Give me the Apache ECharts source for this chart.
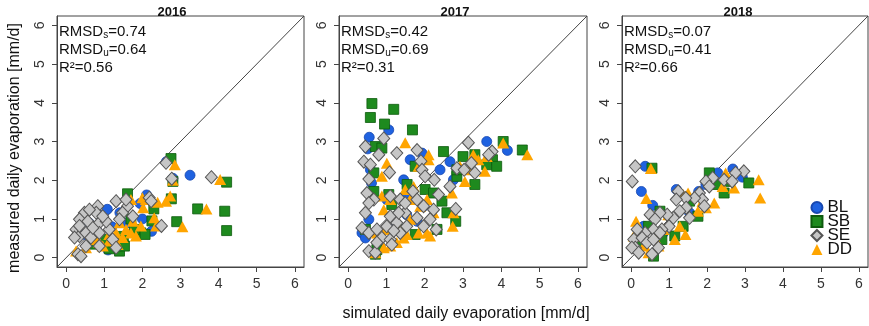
<!DOCTYPE html>
<html><head><meta charset="utf-8">
<script src="https://cdn.jsdelivr.net/npm/echarts@6/dist/echarts.min.js"></script>
<style>html,body{margin:0;padding:0;background:#fff}#c{width:869px;height:326px}</style>
</head><body><div id="c"></div>
<script>
const years = ['2016', '2017', '2018'];
const seriesNames = ['BL', 'SB', 'SE', 'DD'];
const tickValues = [0, 1, 2, 3, 4, 5, 6];
const rmsdS = ['0.74', '0.42', '0.07'];
const rmsdU = ['0.64', '0.69', '0.41'];
const r2 = ['0.56', '0.31', '0.66'];

// 2016
const bl2016 = [[3.25,2.13],[1.08,1.25],[1.94,1.40],[2.11,1.62],[2.24,0.68],[2.63,2.48],[1.1,0.2],[1.41,1.16],[2.8,2.05],[0.6,0.9],[0.8,0.7],[1.3,0.5],[0.5,0.6],[1.6,0.9],[2.0,1.0],[0.9,1.1],[1.2,0.8]];
const sb2016 = [[2.75,2.56],[2.8,1.97],[4.21,1.95],[3.45,1.26],[4.16,1.2],[4.21,0.7],[2.9,0.93],[2.76,1.52],[1.61,1.65],[1.4,0.17],[1.13,0.23],[1.53,0.3],[1.96,0.64],[2.07,0.6],[2.3,1.26],[0.96,0.47],[1.79,0.73],[1.5,0.55],[1.25,0.4],[2.25,0.95],[0.7,0.35],[1.7,1.0]];
const se2016 = [[2.62,2.45],[2.77,2.04],[3.81,2.08],[2.5,0.82],[2.18,1.55],[2.23,1.46],[1.31,1.46],[1.61,1.33],[1.48,1.16],[1.75,1.07],[1.4,0.99],[0.83,1.33],[0.79,1.16],[0.48,1.16],[0.35,0.99],[0.57,0.94],[0.87,0.9],[0.26,0.73],[0.35,0.56],[0.22,0.52],[0.52,0.64],[0.65,0.52],[0.87,0.64],[1.13,0.73],[1.05,0.94],[1.22,0.47],[1.31,0.26],[0.52,0.3],[0.31,0.09],[0.39,0.04],[0.7,0.77],[0.96,1.07],[0.61,1.24],[1.57,1.5],[0.87,0.3],[0.35,0.82]];
const dd2016 = [[2.85,2.4],[4.04,2.02],[3.68,1.26],[3.05,0.8],[2.73,1.59],[2.8,2.0],[2.4,1.43],[2.62,1.46],[2.0,1.55],[2.02,1.29],[2.31,1.03],[2.36,0.82],[1.96,0.82],[1.75,0.94],[1.57,0.73],[1.31,0.64],[1.13,0.6],[0.87,0.39],[0.96,0.3],[0.52,0.26],[0.26,0.17],[1.4,0.9],[1.7,1.5],[2.09,1.5],[1.13,0.43],[1.48,0.52],[1.7,0.64],[1.83,0.56],[0.79,0.47],[1.35,0.34]];

// 2017
const bl2017 = [[0.55,3.11],[1.06,3.3],[3.62,3.0],[4.16,2.77],[0.51,2.81],[1.62,2.53],[1.45,2.01],[1.93,2.7],[2.4,2.27],[2.66,2.48],[0.61,1.93],[0.58,2.27],[2.75,2.01],[1.53,1.67],[0.36,0.64],[0.45,0.51],[0.54,0.99],[1.01,1.5],[1.14,0.73],[1.8,0.94],[1.97,1.33],[1.53,1.11],[0.84,0.3]];
const sb2017 = [[0.62,3.98],[0.58,3.62],[1.19,3.83],[0.95,3.45],[1.68,3.3],[0.71,2.87],[0.88,2.83],[1.75,2.36],[2.49,2.74],[4.05,3.0],[4.55,2.78],[3.77,2.53],[3.62,2.4],[3.88,2.36],[3.31,1.89],[2.84,2.1],[3.0,2.61],[3.31,2.66],[2.01,1.76],[2.23,1.67],[1.54,1.89],[0.67,2.19],[0.67,1.71],[1.14,1.37],[2.81,0.94],[1.75,0.6],[2.32,0.73],[0.45,0.73],[0.71,0.09],[0.75,0.21],[1.4,0.73],[2.58,1.16],[2.45,1.46],[2.84,2.27],[1.06,1.63]];
const se2017 = [[3.14,2.97],[0.93,3.08],[0.45,2.87],[0.41,2.48],[0.8,2.66],[0.58,2.4],[1.08,2.2],[1.27,2.7],[1.8,2.78],[1.9,2.49],[3.76,2.74],[3.67,2.66],[3.22,2.44],[2.84,2.31],[3.03,2.27],[3.31,2.19],[1.93,2.27],[2.01,2.1],[2.25,2.01],[0.54,2.03],[0.49,1.67],[0.67,1.5],[1.1,1.59],[1.36,1.5],[1.49,1.16],[1.69,1.71],[1.8,1.5],[1.97,1.33],[2.23,1.24],[2.36,1.63],[2.66,1.84],[2.81,1.26],[2.3,0.73],[0.45,1.16],[0.36,0.77],[0.54,0.64],[0.75,0.73],[1.01,0.81],[1.1,1.07],[1.27,0.9],[0.88,0.51],[1.1,0.47],[1.36,0.64],[1.53,0.81],[1.8,1.03],[1.97,0.81],[0.54,0.17],[0.71,0.13],[0.75,0.39],[1.19,0.69],[1.32,1.16],[1.49,1.41],[2.14,0.99],[0.54,1.41],[1.14,0.34]];
const dd2017 = [[1.49,2.97],[4.05,2.96],[4.68,2.66],[3.27,2.66],[3.4,2.53],[3.62,2.61],[2.1,2.66],[2.1,2.53],[1.01,2.44],[0.88,2.1],[1.84,2.36],[2.92,2.36],[3.18,2.27],[3.57,2.23],[3.05,1.97],[0.88,1.59],[1.49,1.76],[1.1,1.5],[2.06,1.5],[0.93,1.24],[1.88,1.33],[2.71,1.67],[2.73,0.81],[2.75,1.16],[2.06,0.64],[2.14,0.56],[2.23,1.16],[1.62,0.99],[1.1,0.3],[1.27,0.39],[1.45,0.51],[1.84,0.64],[0.71,0.13],[0.93,0.26],[1.71,1.84],[1.36,0.73],[1.53,0.6],[0.97,0.73],[0.75,0.64],[1.62,1.5]];

// 2018
const bl2018 = [[0.27,1.71],[0.57,1.35],[1.19,1.76],[1.78,1.71],[2.28,2.19],[2.68,2.29],[2.93,2.08],[1.97,1.89],[0.33,0.81],[0.16,0.26],[0.85,0.64],[1.54,1.16],[0.37,2.36],[2.15,2.01]];
const sb2018 = [[0.55,2.31],[3.1,1.93],[2.45,1.67],[1.76,1.07],[0.76,1.2],[0.59,0.04],[0.81,0.47],[1.37,0.81],[0.46,0.81],[2.06,2.19],[2.58,1.97],[1.15,0.56],[1.54,1.46],[0.24,0.39],[2.28,1.89]];
const se2018 = [[0.11,2.36],[0.03,1.97],[2.15,2.06],[2.97,2.23],[2.75,2.19],[2.45,2.01],[2.66,1.97],[1.97,1.97],[2.06,1.84],[1.8,1.67],[1.88,1.5],[1.93,1.33],[1.67,1.54],[1.44,1.54],[1.24,1.71],[1.19,1.5],[1.45,1.29],[1.28,1.2],[1.54,1.03],[1.11,1.03],[0.95,1.11],[1.0,0.81],[0.76,1.16],[0.5,1.11],[0.63,0.99],[0.81,0.73],[0.59,0.73],[0.37,0.64],[0.16,0.73],[0.07,0.47],[0.29,0.51],[0.42,0.39],[0.59,0.47],[0.72,0.26],[0.55,0.09],[0.11,0.26],[0.02,0.26],[0.2,0.13],[0.76,0.64]];
const dd2018 = [[3.36,2.01],[3.4,1.54],[0.52,2.3],[0.4,1.53],[0.13,0.94],[2.49,2.19],[2.71,1.8],[2.41,1.84],[2.19,1.41],[1.97,1.29],[1.76,1.2],[1.43,0.6],[1.15,0.47],[1.28,0.81],[0.85,0.73],[0.72,0.3],[0.07,0.56],[1.5,1.67],[1.37,1.63],[0.98,1.11],[0.63,0.51],[0.33,0.3],[0.46,0.13],[1.88,1.46]];

const panelData = [
  {BL: bl2016, SB: sb2016, SE: se2016, DD: dd2016},
  {BL: bl2017, SB: sb2017, SE: se2017, DD: dd2017},
  {BL: bl2018, SB: sb2018, SE: se2018, DD: dd2018}
];

const AX_MIN = -0.24, AX_MAX = 6.24;
const FONT = '"Liberation Sans", Arial, sans-serif';
const gridLefts = [57, 339, 622];
const gridWidths = [247, 248, 246];
const GRID_TOP = 16, GRID_H = 251;

const styles = {
  BL: {symbol: 'circle', size: 10, color: '#1f62e0', border: '#1848b0', bw: 0.8},
  SB: {symbol: 'rect', size: 10, color: '#1e8a1e', border: '#0d5a0d', bw: 0.8},
  SE: {symbol: 'diamond', size: [12, 13], color: '#c6c6c6', border: '#555555', bw: 1},
  DD: {symbol: 'triangle', size: [12, 11], color: '#ffa500', border: '#ffa500', bw: 0}
};
const drawOrder = ['BL', 'SB', 'DD', 'SE'];

const grid = [], xAxis = [], yAxis = [], series = [], graphic = [];
years.forEach((yr, i) => {
  grid.push({left: gridLefts[i], top: GRID_TOP, width: gridWidths[i], height: GRID_H,
    show: true, borderColor: '#444', borderWidth: 1, backgroundColor: '#fff'});
  const common = {
    gridIndex: i, type: 'value', min: AX_MIN, max: AX_MAX,
    axisLine: {show: true, onZero: false, lineStyle: {color: '#444', width: 1}}, splitLine: {show: false},
    axisTick: {show: true, inside: false, customValues: tickValues, length: 5, lineStyle: {color: '#444', width: 1}},
  };
  xAxis.push(Object.assign({}, common, {
    position: 'bottom',
    axisLabel: {customValues: tickValues, fontSize: 14, color: '#333', margin: 10, fontFamily: FONT}
  }));
  yAxis.push(Object.assign({}, common, {
    position: 'left',
    axisLabel: {customValues: tickValues, fontSize: 14, color: '#333', margin: 10, rotate: 90, fontFamily: FONT}
  }));
  series.push({
    type: 'line', xAxisIndex: i, yAxisIndex: i, silent: true, symbol: 'none',
    data: [[AX_MIN, AX_MIN], [AX_MAX, AX_MAX]],
    lineStyle: {color: '#444', width: 1}, z: 1, clip: true
  });
  drawOrder.forEach(name => {
    const s = styles[name];
    series.push({
      type: 'scatter', name: name, xAxisIndex: i, yAxisIndex: i,
      data: panelData[i][name], symbol: s.symbol, symbolSize: s.size,
      itemStyle: {color: s.color, borderColor: s.border, borderWidth: s.bw, opacity: 1},
      emphasis: {disabled: true}, z: 2
    });
  });
  const left = gridLefts[i] + 2;
  const lines = [
    '{m|RMSD}{s|s}{m|=' + rmsdS[i] + '}',
    '{m|RMSD}{s|u}{m|=' + rmsdU[i] + '}',
    '{m|R²=' + r2[i] + '}'
  ];
  lines.forEach((t, k) => {
    graphic.push({type: 'text', left: left, top: 24 + k * 18, z: 10, style: {
      text: t, fill: '#111',
      rich: {m: {fontSize: 15, fontFamily: FONT, fill: '#111', lineHeight: 17},
             s: {fontSize: 10, fontFamily: FONT, fill: '#111', verticalAlign: 'bottom', lineHeight: 17}}
    }});
  });
});
const titleCenters = [172, 455, 738];
years.forEach((yr, i) => {
  graphic.push({type: 'text', x: titleCenters[i], y: 12, z: 10, style: {
    text: yr, fontSize: 13, fontWeight: 'bold', fontFamily: FONT, fill: '#111', align: 'center', verticalAlign: 'middle'}});
});
graphic.push({type: 'text', x: 15, y: 148, rotation: Math.PI / 2, z: 10, style: {
  text: 'measured daily evaporation [mm/d]', fontSize: 16, fontFamily: FONT, fill: '#111', align: 'center', verticalAlign: 'middle'}});
graphic.push({type: 'text', x: 466, y: 314, z: 10, style: {
  text: 'simulated daily evaporation [mm/d]', fontSize: 16, fontFamily: FONT, fill: '#111', align: 'center', verticalAlign: 'middle'}});

const chart = echarts.init(document.getElementById('c'), null, {renderer: 'canvas'});
chart.setOption({
  animation: false,
  backgroundColor: '#fff',
  grid, xAxis, yAxis, series, graphic,
  legend: {
    data: seriesNames, orient: 'vertical', right: 12, top: 194,
    itemWidth: 11, itemHeight: 11, itemGap: -3,
    textStyle: {fontSize: 17, fontFamily: FONT, color: '#111'},
    selectedMode: false, backgroundColor: 'transparent'
  }
});
</script></body></html>
